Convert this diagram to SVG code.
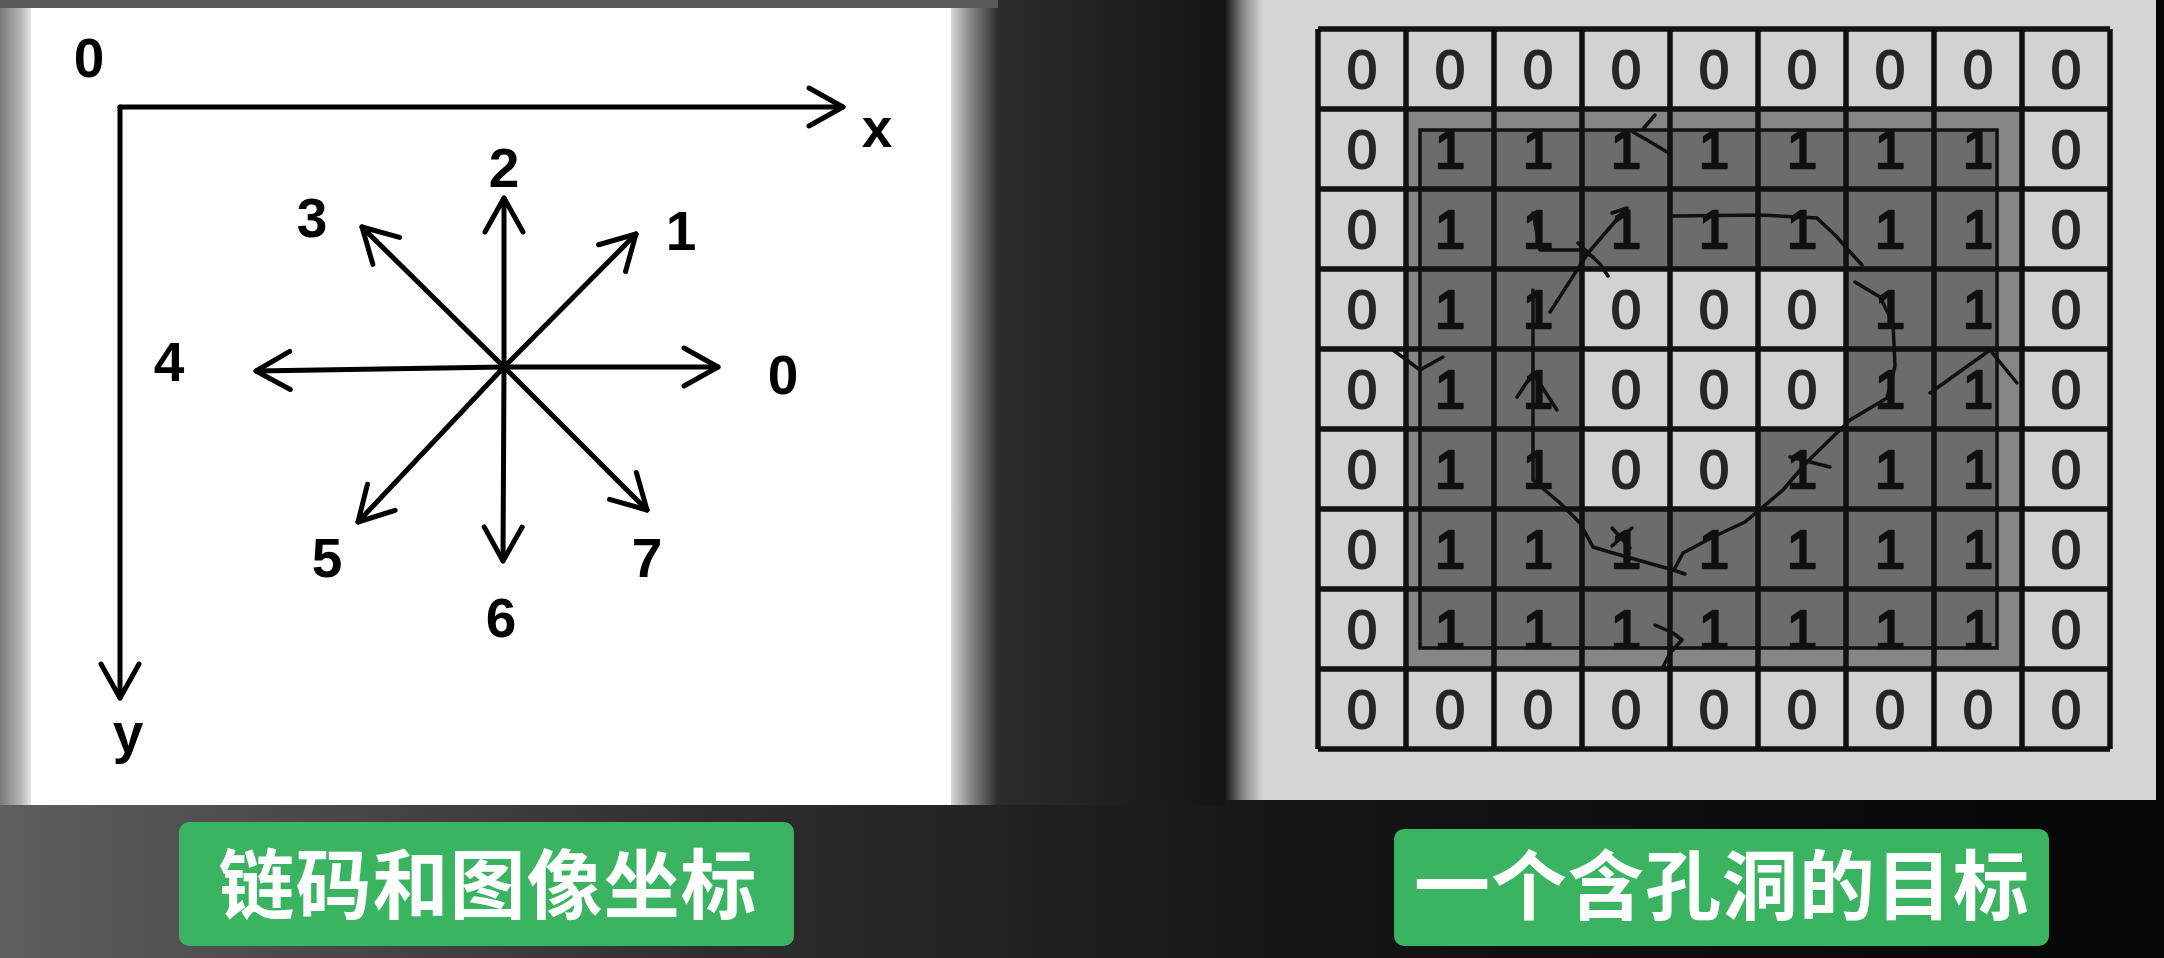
<svg xmlns="http://www.w3.org/2000/svg" width="2164" height="958" viewBox="0 0 2164 958">
<defs>
<linearGradient id="bgGrad" x1="0" y1="0" x2="1" y2="0">
<stop offset="0" stop-color="#5e5e5e"/><stop offset="0.33" stop-color="#2e2e2e"/><stop offset="0.6" stop-color="#151515"/><stop offset="1" stop-color="#050505"/>
</linearGradient>
<linearGradient id="leftEdge" x1="0" y1="0" x2="1" y2="0">
<stop offset="0" stop-color="#7a7a7a"/><stop offset="0.7" stop-color="#b8b8b8"/><stop offset="1" stop-color="#e8e8e8"/>
</linearGradient>
<linearGradient id="rightEdge" x1="0" y1="0" x2="1" y2="0">
<stop offset="0" stop-color="#d8d8d8"/><stop offset="0.4" stop-color="#8a8a8a"/><stop offset="1" stop-color="#2c2c2c"/>
</linearGradient>
<linearGradient id="midGrad" x1="0" y1="0" x2="1" y2="0">
<stop offset="0" stop-color="#2c2c2c"/><stop offset="1" stop-color="#141414"/>
</linearGradient>
<linearGradient id="rpEdge" x1="0" y1="0" x2="1" y2="0">
<stop offset="0" stop-color="#161616"/><stop offset="0.5" stop-color="#8a8a8a"/><stop offset="1" stop-color="#d5d5d5"/>
</linearGradient>
<marker id="ah" markerUnits="userSpaceOnUse" viewBox="-40 -30 50 60" markerWidth="50" markerHeight="60" refX="0" refY="0" orient="auto">
<path d="M-34,-19 L0,0 L-34,19" fill="none" stroke="#000" stroke-width="5" stroke-linecap="round" stroke-linejoin="round"/>
</marker>
</defs>
<style>
.axis{stroke:#000;stroke-width:5;fill:none;stroke-linecap:round}
.lbl{font-family:"Liberation Sans",Arial,sans-serif;font-size:55px;font-weight:bold;fill:#000;text-anchor:middle}
.cell0{fill:#d2d2d2}
.z{font-family:"Liberation Sans",Arial,sans-serif;font-size:54px;fill:#262626;text-anchor:middle;stroke:#262626;stroke-width:2}
.o{font-family:"Liberation Sans",Arial,sans-serif;font-size:54px;fill:#101010;text-anchor:middle;stroke:#101010;stroke-width:2.5}
.gl{stroke:#111;stroke-width:5.5;fill:none}
.chain{stroke:#111;stroke-width:3.5;fill:none;stroke-linecap:round;stroke-linejoin:round}
.btn{fill:#3bb462}
.cap{font-family:"Noto Sans CJK SC","Noto Sans CJK TC",sans-serif;font-size:76px;font-weight:bold;fill:#ffffff;text-anchor:middle;letter-spacing:1px}
</style>

<!-- background -->
<rect x="0" y="0" width="2164" height="958" fill="url(#bgGrad)"/>
<rect x="0" y="0" width="1225" height="8" fill="#5a5a5a"/>
<rect x="0" y="8" width="31" height="797" fill="url(#leftEdge)"/>
<rect x="998" y="0" width="227" height="805" fill="url(#midGrad)"/>
<rect x="951" y="8" width="47" height="797" fill="url(#rightEdge)"/>

<!-- left panel: chain code and image coordinates -->
<g id="left-panel">
<rect x="31" y="8" width="920" height="797" fill="#ffffff"/>
<g id="coord-axes">
<text class="lbl" x="89" y="77">0</text>
<text class="lbl" x="877" y="147">x</text>
<text class="lbl" x="128" y="752">y</text>
</g>
<g id="direction-labels">
<text class="lbl" x="783" y="394">0</text>
<text class="lbl" x="681" y="250">1</text>
<text class="lbl" x="504" y="187">2</text>
<text class="lbl" x="312" y="237">3</text>
<text class="lbl" x="169" y="381">4</text>
<text class="lbl" x="327" y="577">5</text>
<text class="lbl" x="501" y="637">6</text>
<text class="lbl" x="647" y="577">7</text>
</g>
<g id="connectors-left">
<line class="axis" x1="120" y1="107" x2="843" y2="107" marker-end="url(#ah)"/>
<line class="axis" x1="120" y1="107" x2="120" y2="698" marker-end="url(#ah)"/>
<line class="axis" x1="504" y1="367" x2="718" y2="367" marker-end="url(#ah)"/>
<line class="axis" x1="504" y1="367" x2="636" y2="234" marker-end="url(#ah)"/>
<line class="axis" x1="504" y1="367" x2="504" y2="198" marker-end="url(#ah)"/>
<line class="axis" x1="504" y1="367" x2="362" y2="227" marker-end="url(#ah)"/>
<line class="axis" x1="504" y1="367" x2="256" y2="371" marker-end="url(#ah)"/>
<line class="axis" x1="504" y1="367" x2="358" y2="522" marker-end="url(#ah)"/>
<line class="axis" x1="504" y1="367" x2="503" y2="561" marker-end="url(#ah)"/>
<line class="axis" x1="504" y1="367" x2="647" y2="510" marker-end="url(#ah)"/>
<circle cx="504" cy="367" r="6" fill="#000"/>
</g>
</g>

<!-- right panel: target with a hole -->
<g id="right-panel">
<rect x="1225" y="0" width="931" height="800" fill="#d5d5d5"/>
<rect x="1225" y="0" width="38" height="800" fill="url(#rpEdge)"/>
<rect x="2156" y="0" width="8" height="958" fill="#050505"/>
<g id="grid">
<rect class="cell0" x="1318" y="29" width="792" height="720"/>
<rect x="1406" y="109" width="616" height="560" fill="#858585"/>
<rect x="1420" y="130" width="577" height="518" fill="#6c6c6c"/>
<rect class="cell0" x="1582" y="269" width="264" height="160"/>
<rect class="cell0" x="1582" y="429" width="176" height="80"/>
<rect x="1420" y="130" width="577" height="518" fill="none" stroke="#111" stroke-width="3.5"/>
<path class="gl" d="M1318,29V749M1406,29V749M1494,29V749M1582,29V749M1670,29V749M1758,29V749M1846,29V749M1934,29V749M2022,29V749M2110,29V749M1318,29H2110M1318,109H2110M1318,189H2110M1318,269H2110M1318,349H2110M1318,429H2110M1318,509H2110M1318,589H2110M1318,669H2110M1318,749H2110"/>
</g>
<g id="cell-values">
<text class="z" x="1362" y="88">0</text><text class="z" x="1450" y="88">0</text><text class="z" x="1538" y="88">0</text><text class="z" x="1626" y="88">0</text><text class="z" x="1714" y="88">0</text><text class="z" x="1802" y="88">0</text><text class="z" x="1890" y="88">0</text><text class="z" x="1978" y="88">0</text><text class="z" x="2066" y="88">0</text>
<text class="z" x="1362" y="168">0</text><text class="o" x="1450" y="168">1</text><text class="o" x="1538" y="168">1</text><text class="o" x="1626" y="168">1</text><text class="o" x="1714" y="168">1</text><text class="o" x="1802" y="168">1</text><text class="o" x="1890" y="168">1</text><text class="o" x="1978" y="168">1</text><text class="z" x="2066" y="168">0</text>
<text class="z" x="1362" y="248">0</text><text class="o" x="1450" y="248">1</text><text class="o" x="1538" y="248">1</text><text class="o" x="1626" y="248">1</text><text class="o" x="1714" y="248">1</text><text class="o" x="1802" y="248">1</text><text class="o" x="1890" y="248">1</text><text class="o" x="1978" y="248">1</text><text class="z" x="2066" y="248">0</text>
<text class="z" x="1362" y="328">0</text><text class="o" x="1450" y="328">1</text><text class="o" x="1538" y="328">1</text><text class="z" x="1626" y="328">0</text><text class="z" x="1714" y="328">0</text><text class="z" x="1802" y="328">0</text><text class="o" x="1890" y="328">1</text><text class="o" x="1978" y="328">1</text><text class="z" x="2066" y="328">0</text>
<text class="z" x="1362" y="408">0</text><text class="o" x="1450" y="408">1</text><text class="o" x="1538" y="408">1</text><text class="z" x="1626" y="408">0</text><text class="z" x="1714" y="408">0</text><text class="z" x="1802" y="408">0</text><text class="o" x="1890" y="408">1</text><text class="o" x="1978" y="408">1</text><text class="z" x="2066" y="408">0</text>
<text class="z" x="1362" y="488">0</text><text class="o" x="1450" y="488">1</text><text class="o" x="1538" y="488">1</text><text class="z" x="1626" y="488">0</text><text class="z" x="1714" y="488">0</text><text class="o" x="1802" y="488">1</text><text class="o" x="1890" y="488">1</text><text class="o" x="1978" y="488">1</text><text class="z" x="2066" y="488">0</text>
<text class="z" x="1362" y="568">0</text><text class="o" x="1450" y="568">1</text><text class="o" x="1538" y="568">1</text><text class="o" x="1626" y="568">1</text><text class="o" x="1714" y="568">1</text><text class="o" x="1802" y="568">1</text><text class="o" x="1890" y="568">1</text><text class="o" x="1978" y="568">1</text><text class="z" x="2066" y="568">0</text>
<text class="z" x="1362" y="648">0</text><text class="o" x="1450" y="648">1</text><text class="o" x="1538" y="648">1</text><text class="o" x="1626" y="648">1</text><text class="o" x="1714" y="648">1</text><text class="o" x="1802" y="648">1</text><text class="o" x="1890" y="648">1</text><text class="o" x="1978" y="648">1</text><text class="z" x="2066" y="648">0</text>
<text class="z" x="1362" y="728">0</text><text class="z" x="1450" y="728">0</text><text class="z" x="1538" y="728">0</text><text class="z" x="1626" y="728">0</text><text class="z" x="1714" y="728">0</text><text class="z" x="1802" y="728">0</text><text class="z" x="1890" y="728">0</text><text class="z" x="1978" y="728">0</text><text class="z" x="2066" y="728">0</text>
</g>
<g id="connectors-chain">
<path class="chain" d="M1533,290 L1533,480 L1560,503 L1580,523 L1593,547 L1613,553 L1673,570 L1685,574"/>
<path class="chain" d="M1675,568 L1683,553 L1713,537 L1745,522 L1783,490 L1807,462 L1850,420 L1887,398 L1895,366 L1893,323 L1880,297 L1855,282"/>
<path class="chain" d="M1862,265 L1850,252 L1837,237 L1817,218 L1760,215 L1673,216"/>
<path class="chain" d="M1550,312 L1588,253 L1625,210"/>
<path class="chain" d="M1612,213 L1627,208 L1628,224"/>
<path class="chain" d="M1533,213 L1540,250 L1580,250 L1593,257"/>
<path class="chain" d="M1578,243 L1600,264 L1608,276"/>
<path class="chain" d="M1517,397 L1533,373 L1557,410"/>
<path class="chain" d="M1790,457 L1830,467"/>
<path class="chain" d="M1612,528 L1630,548 M1632,528 L1612,546"/>
<path class="chain" d="M1655,115 L1643,129 M1633,132 L1647,140 L1667,152"/>
<path class="chain" d="M1393,350 L1420,370 L1443,357"/>
<path class="chain" d="M1930,393 L1990,350 L2017,383"/>
<path class="chain" d="M1655,625 L1673,633 L1682,640 L1670,653 L1663,667"/>
</g>
</g>

<!-- captions -->
<g id="caption-left">
<rect class="btn" x="179" y="822" width="615" height="124" rx="10"/>
<text class="cap" x="488" y="913">链码和图像坐标</text>
</g>
<g id="caption-right">
<rect class="btn" x="1394" y="829" width="655" height="117" rx="10"/>
<text class="cap" x="1722" y="914">一个含孔洞的目标</text>
</g>
</svg>
